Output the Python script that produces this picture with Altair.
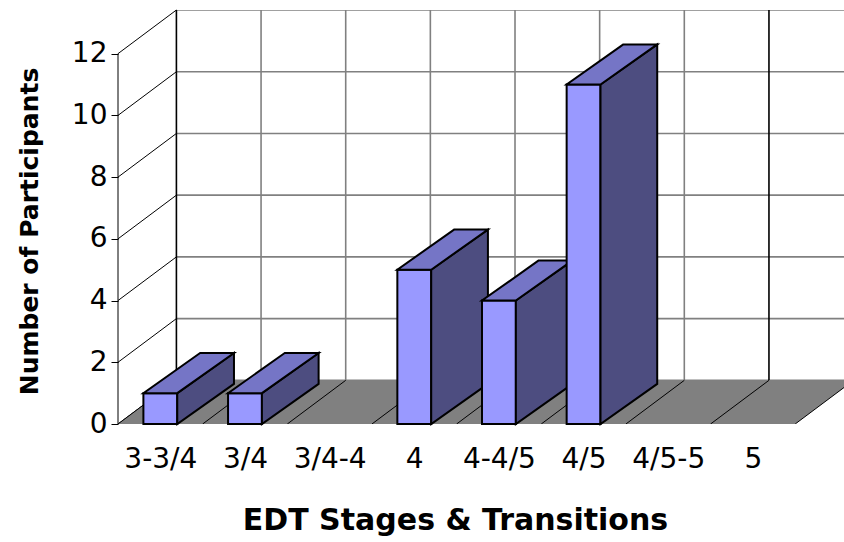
import json

import altair as alt
import pandas as pd

# ---- data -------------------------------------------------------------
categories = ["3-3/4", "3/4", "3/4-4", "4", "4-4/5", "4/5", "4/5-5", "5"]
participants = [1, 1, 0, 5, 4, 11, 0, 0]
y_ticks = [0, 2, 4, 6, 8, 10, 12]

# ---- layout / style ---------------------------------------------------
WIDTH, HEIGHT = 726, 414
PX_PER_CAT = 84.65            # horizontal pixels per category slot
WALL_DX, WALL_DY = 0.69, 1.415  # depth offset of the back wall (x in slots, y in units)
BAR_DX, BAR_DY = 0.67, 1.30     # depth offset of each bar
BAR_L, BAR_R = 0.30, 0.70       # bar front face inside its slot

FRONT = "#9999FF"
TOP = "#7575C6"
SIDE = "#4D4D80"
FLOOR = "#808080"
GRID = "#808080"
FONT = "DejaVu Sans"

n = len(categories)
y_top = max(y_ticks)
xs = alt.Scale(domain=[0, WIDTH / PX_PER_CAT], nice=False, zero=False)
ys = alt.Scale(domain=[0, y_top + WALL_DY], nice=False, zero=False)


def X(field, axis=alt.Undefined):
    return alt.X(field, type="quantitative", scale=xs, axis=axis)


def Y(field, axis=alt.Undefined):
    return alt.Y(field, type="quantitative", scale=ys, axis=axis)


# ---- back wall gridlines ---------------------------------------------
back_h = pd.DataFrame({
    "x": [WALL_DX] * len(y_ticks),
    "x2": [n + WALL_DX] * len(y_ticks),
    "y": [v + WALL_DY for v in y_ticks],
})
back_h_layer = alt.Chart(back_h).mark_rule(color=GRID, strokeWidth=1.6, clip=True).encode(
    x=X("x"), x2="x2", y=Y("y")
)

# wall edges are black, inner category dividers grey
edge_slots = {0, n - 1}
back_v = pd.DataFrame({
    "x": [k + WALL_DX for k in range(n + 1)],
    "y": [WALL_DY] * (n + 1),
    "y2": [y_top + WALL_DY] * (n + 1),
    "col": ["black" if k in edge_slots else GRID for k in range(n + 1)],
})
back_v_layer = alt.Chart(back_v).mark_rule(strokeWidth=1.6, clip=True).encode(
    x=X("x"), y=Y("y"), y2="y2", color=alt.Color("col:N", scale=None)
)

# ---- left wall diagonals ---------------------------------------------
left_w = pd.DataFrame({
    "x": [0.0] * len(y_ticks),
    "x2": [WALL_DX] * len(y_ticks),
    "y": y_ticks,
    "y2": [v + WALL_DY for v in y_ticks],
})
left_layer = alt.Chart(left_w).mark_rule(color="black", strokeWidth=1).encode(
    x=X("x"), x2="x2", y=Y("y"), y2="y2"
)

# ---- floor ------------------------------------------------------------
floor = pd.DataFrame({
    "y": [0.0, WALL_DY],
    "x": [0.0, WALL_DX],
    "x2": [float(n), n + WALL_DX],
})
floor_layer = alt.Chart(floor).mark_area(
    orient="horizontal", color=FLOOR, clip=True
).encode(y=Y("y"), x=X("x"), x2="x2")

floor_lines = pd.DataFrame({
    "x": [float(k) for k in range(n + 1)],
    "x2": [k + WALL_DX for k in range(n + 1)],
    "y": [0.0] * (n + 1),
    "y2": [WALL_DY] * (n + 1),
})
floor_lines_layer = alt.Chart(floor_lines).mark_rule(color="black", strokeWidth=1, clip=True).encode(
    x=X("x"), x2="x2", y=Y("y"), y2="y2"
)

# ---- axes -------------------------------------------------------------
label_expr = json.dumps(categories) + "[floor(datum.value)]"
x_axis = alt.Axis(
    values=[i + 0.5 for i in range(n)], labelExpr=label_expr,
    domain=False, ticks=False, grid=False,
    labelFont=FONT, labelFontSize=28, labelColor="black", labelPadding=21,
    labelOverlap=False, labelFlush=False,
    title="EDT Stages & Transitions", titleFont=FONT, titleFontSize=30,
    titleFontWeight="bold", titleColor="black",
    titleX=337, titleY=81, titleAlign="center", titleBaseline="top",
)
y_axis = alt.Axis(
    values=y_ticks, domain=False, grid=False,
    tickSize=7, tickColor="black", tickWidth=1,
    labelFont=FONT, labelFontSize=28, labelColor="black", labelPadding=4,
    title="Number of Participants", titleFont=FONT, titleFontSize=25,
    titleFontWeight="bold", titleColor="black",
    titleAngle=270, titleX=-89, titleY=221, titleAlign="center", titleBaseline="middle",
)
axis_line = pd.DataFrame({"x": [0.0], "y": [0.0], "y2": [float(y_top)]})
axis_layer = alt.Chart(axis_line).mark_rule(color="black", strokeWidth=1).encode(
    x=X("x", x_axis), y=Y("y", y_axis), y2="y2"
)

# ---- bars (drawn left to right so nearer faces overlap correctly) ----
outline = dict(stroke="black", strokeWidth=2, strokeJoin="miter")
bar_layers = []
for i, (cat, v) in enumerate(zip(categories, participants)):
    if v <= 0:
        continue
    front = pd.DataFrame({"cat": [cat], "x": [i + BAR_L], "x2": [i + BAR_R], "y": [v], "y2": [0]})
    side = pd.DataFrame({
        "cat": [cat, cat],
        "x": [i + BAR_R, i + BAR_R + BAR_DX],
        "y": [v, v + BAR_DY],
        "y2": [0, BAR_DY],
    })
    top = pd.DataFrame({
        "cat": [cat, cat],
        "y": [v, v + BAR_DY],
        "x": [i + BAR_L, i + BAR_L + BAR_DX],
        "x2": [i + BAR_R, i + BAR_R + BAR_DX],
    })
    bar_layers += [
        alt.Chart(front).mark_rect(fill=FRONT, **outline).encode(
            x=X("x"), x2="x2", y=Y("y"), y2="y2"),
        alt.Chart(side).mark_area(orient="vertical", fill=SIDE, line=False, **outline).encode(
            x=X("x"), y=Y("y"), y2="y2"),
        alt.Chart(top).mark_area(orient="horizontal", fill=TOP, line=False, **outline).encode(
            y=Y("y"), x=X("x"), x2="x2"),
    ]

chart = alt.layer(
    axis_layer, back_h_layer, back_v_layer, left_layer, floor_layer, floor_lines_layer,
    *bar_layers,
).properties(
    width=WIDTH, height=HEIGHT,
    padding={"left": 118, "top": 10, "right": 0, "bottom": 118},
    autosize=alt.AutoSizeParams(type="none"),
    background="white",
).configure_view(strokeWidth=0)

chart.save("out.html", embed_options={"renderer": "svg", "actions": False})
